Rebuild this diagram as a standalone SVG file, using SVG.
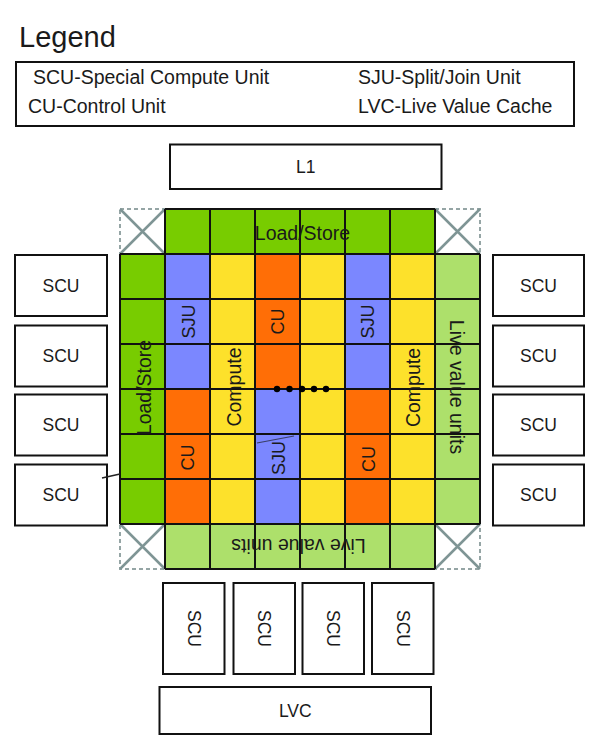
<svg xmlns="http://www.w3.org/2000/svg" width="598" height="751" viewBox="0 0 598 751">
<style>
  text { font-family: "Liberation Sans", Arial, sans-serif; fill: #1a1a1a; }
  .box { fill: #ffffff; stroke: #111111; stroke-width: 2; }
  .lbl { font-size: 17.5px; text-anchor: middle; }
  .leg { font-size: 19.5px; }
  .gl { font-size: 19.5px; text-anchor: middle; }
  .sm { font-size: 18px; text-anchor: middle; }
  .green { fill: #78CC00; }
  .lgreen { fill: #ADE06B; }
  .blue { fill: #7B87FF; }
  .yellow { fill: #FDE12B; }
  .orange { fill: #FF6E06; }
  .corner { fill: #ffffff; stroke: #95A5A5; stroke-width: 2; stroke-dasharray: 4 3; }
  .cross { stroke: #7F9595; stroke-width: 2.5; }
  .grid { fill: none; stroke: #111111; stroke-width: 2; }
</style>

<g id="legend">
  <text x="19" y="47" style="font-size:29px">Legend</text>
  <rect class="box" x="16" y="62" width="558" height="64"/>
  <text class="leg" x="33" y="84">SCU-Special Compute Unit</text>
  <text class="leg" x="28" y="113">CU-Control Unit</text>
  <text class="leg" x="358" y="84">SJU-Split/Join Unit</text>
  <text class="leg" x="358" y="113">LVC-Live Value Cache</text>
</g>

<g id="L1">
  <rect class="box" x="170" y="144.5" width="271.5" height="44.5"/>
  <text class="lbl" x="305.75" y="173">L1</text>
</g>

<g id="fabric">
  <rect class="green" x="165" y="209" width="270" height="45"/>
  <rect class="green" x="120" y="254" width="45" height="270"/>
  <rect class="lgreen" x="435" y="254" width="45" height="270"/>
  <rect class="lgreen" x="165" y="524" width="270" height="45"/>
  <rect class="blue" x="165" y="254" width="45" height="135"/>
  <rect class="orange" x="165" y="389" width="45" height="135"/>
  <rect class="yellow" x="210" y="254" width="45" height="270"/>
  <rect class="orange" x="255" y="254" width="45" height="135"/>
  <rect class="blue" x="255" y="389" width="45" height="135"/>
  <rect class="yellow" x="300" y="254" width="45" height="270"/>
  <rect class="blue" x="345" y="254" width="45" height="135"/>
  <rect class="orange" x="345" y="389" width="45" height="135"/>
  <rect class="yellow" x="390" y="254" width="45" height="270"/>
  <rect class="corner" x="120" y="209" width="45" height="45"/>
  <path class="cross" d="M120 209 L165 254 M165 209 L120 254"/>
  <rect class="corner" x="435" y="209" width="45" height="45"/>
  <path class="cross" d="M435 209 L480 254 M480 209 L435 254"/>
  <rect class="corner" x="120" y="524" width="45" height="45"/>
  <path class="cross" d="M120 524 L165 569 M165 524 L120 569"/>
  <rect class="corner" x="435" y="524" width="45" height="45"/>
  <path class="cross" d="M435 524 L480 569 M480 524 L435 569"/>
  <path class="grid" d="M165 209 V569 M210 209 V569 M255 209 V569 M300 209 V569 M345 209 V569 M390 209 V569 M435 209 V569 M120 254 V524 M480 254 V524 M165 209 H435 M165 569 H435 M120 254 H480 M120 299 H480 M120 344 H480 M120 389 H480 M120 434 H480 M120 479 H480 M120 524 H480"/>
  <text class="gl" x="302.5" y="240">Load/Store</text>
  <text class="gl" x="298.5" y="553" transform="rotate(180 298.5 546)">Live value units</text>
  <text class="gl" transform="translate(144 387.5) rotate(-90)" x="0" y="7">Load/Store</text>
  <text class="gl" transform="translate(457 387) rotate(90)" x="0" y="7">Live value units</text>
  <text class="gl" transform="translate(233.5 387) rotate(-90)" x="0" y="7">Compute</text>
  <text class="gl" transform="translate(413 387.5) rotate(-90)" x="0" y="7">Compute</text>
  <text class="sm" transform="translate(188 321.5) rotate(-90)" x="0" y="6.5">SJU</text>
  <text class="sm" transform="translate(277.5 321.5) rotate(-90)" x="0" y="6.5">CU</text>
  <text class="sm" transform="translate(367.5 321.5) rotate(-90)" x="0" y="6.5">SJU</text>
  <text class="sm" transform="translate(187.5 457.5) rotate(-90)" x="0" y="6.5">CU</text>
  <text class="sm" transform="translate(278 458) rotate(-90)" x="0" y="6.5">SJU</text>
  <text class="sm" transform="translate(368 459) rotate(-90)" x="0" y="6.5">CU</text>
  <g fill="#000000">
    <circle cx="277" cy="389" r="3.2"/>
    <circle cx="289.5" cy="389" r="3.2"/>
    <circle cx="302" cy="389" r="3.2"/>
    <circle cx="314" cy="389" r="3.2"/>
    <circle cx="326" cy="389" r="3.2"/>
  </g>
</g>

<g id="scu-left-1"><rect class="box" x="15" y="255" width="92" height="61"/><text class="lbl" x="61" y="291.5">SCU</text></g>
<g id="scu-left-2"><rect class="box" x="15" y="325.5" width="92" height="61"/><text class="lbl" x="61" y="362">SCU</text></g>
<g id="scu-left-3"><rect class="box" x="15" y="394.5" width="92" height="61"/><text class="lbl" x="61" y="431">SCU</text></g>
<g id="scu-left-4"><rect class="box" x="15" y="464.5" width="92" height="61"/><text class="lbl" x="61" y="501">SCU</text></g>

<g id="scu-right-1"><rect class="box" x="493" y="255" width="91" height="61"/><text class="lbl" x="538.5" y="291.5">SCU</text></g>
<g id="scu-right-2"><rect class="box" x="493" y="325.5" width="91" height="61"/><text class="lbl" x="538.5" y="362">SCU</text></g>
<g id="scu-right-3"><rect class="box" x="493" y="394.5" width="91" height="61"/><text class="lbl" x="538.5" y="431">SCU</text></g>
<g id="scu-right-4"><rect class="box" x="493" y="464.5" width="91" height="61"/><text class="lbl" x="538.5" y="501">SCU</text></g>

<g id="scu-bottom-1"><rect class="box" x="163" y="583" width="61.5" height="91"/><text class="lbl" transform="translate(193.75 628.5) rotate(90)" x="0" y="6">SCU</text></g>
<g id="scu-bottom-2"><rect class="box" x="233.5" y="583" width="61.5" height="91"/><text class="lbl" transform="translate(264.25 628.5) rotate(90)" x="0" y="6">SCU</text></g>
<g id="scu-bottom-3"><rect class="box" x="302.5" y="583" width="61.5" height="91"/><text class="lbl" transform="translate(333.25 628.5) rotate(90)" x="0" y="6">SCU</text></g>
<g id="scu-bottom-4"><rect class="box" x="372" y="583" width="61.5" height="91"/><text class="lbl" transform="translate(402.75 628.5) rotate(90)" x="0" y="6">SCU</text></g>

<g id="LVC">
  <rect class="box" x="159.5" y="687" width="271.5" height="47"/>
  <text class="lbl" x="295.25" y="716.5">LVC</text>
</g>

<g id="connectors">
  <line x1="102" y1="478" x2="120" y2="474" stroke="#222222" stroke-width="1.5"/>
  <line x1="257" y1="443" x2="294" y2="436" stroke="#3a3f66" stroke-width="1.2"/>
</g>
</svg>
